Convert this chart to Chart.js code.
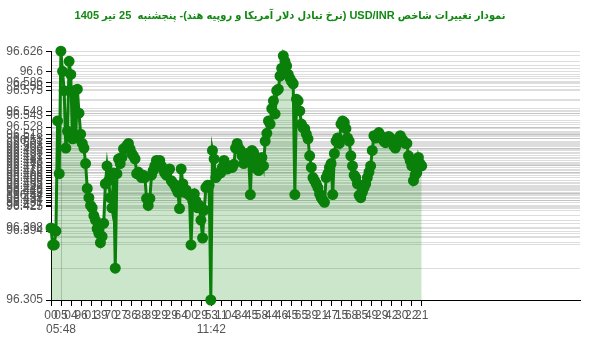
<!DOCTYPE html>
<html>
  <head>
    <meta charset="utf-8">
    <script src="https://cdn.jsdelivr.net/npm/chart.js@4.4.1/dist/chart.umd.min.js"></script>
    <style>
      html, body { margin: 0; padding: 0; background: #fff; }
      #wrap { width: 600px; height: 352px; }
    </style>
  </head>
  <body>
    <div id="wrap"><canvas id="myChart" width="600" height="352"></canvas></div>

    <script>
      // USD/INR values in order
      var rates = [
        96.398, 96.376, 96.376, 96.394, 96.536, 96.468, 96.626, 96.600, 96.575, 96.501,
        96.523, 96.613, 96.596, 96.513, 96.575, 96.514, 96.577, 96.546, 96.519, 96.507,
        96.501, 96.481, 96.449, 96.437, 96.427, 96.424, 96.414, 96.408, 96.397, 96.391,
        96.379, 96.387, 96.404, 96.455, 96.478, 96.459, 96.437, 96.424, 96.469, 96.346,
        96.468, 96.487, 96.481, 96.489, 96.500,
        96.501, 96.504, 96.507, 96.500, 96.494, 96.491, 96.487, 96.468, 96.470, 96.466,
        96.463, 96.466, 96.463, 96.436, 96.427, 96.436, 96.466, 96.472, 96.478, 96.485,
        96.481, 96.485, 96.478, 96.474, 96.469, 96.466, 96.472, 96.474, 96.459, 96.456,
        96.453, 96.449, 96.444, 96.423, 96.474, 96.455, 96.444, 96.447, 96.442, 96.440,
        96.376, 96.433, 96.442, 96.433, 96.424,
        96.427, 96.408, 96.385, 96.421, 96.450, 96.453, 96.453, 96.305, 96.498, 96.487,
        96.463, 96.466, 96.469, 96.469, 96.476, 96.485, 96.480, 96.474, 96.476, 96.476,
        96.476, 96.480, 96.501, 96.507, 96.501, 96.498, 96.491, 96.481, 96.485, 96.494,
        96.489, 96.441, 96.498, 96.495, 96.476, 96.474, 96.472, 96.485, 96.489, 96.478,
        96.510, 96.520, 96.536, 96.532, 96.552, 96.562, 96.545, 96.575,
        96.577, 96.594, 96.604, 96.620, 96.613, 96.607, 96.596, 96.591, 96.587, 96.584,
        96.441, 96.564, 96.562, 96.549, 96.532, 96.527, 96.526, 96.519, 96.513, 96.491,
        96.476, 96.463, 96.459, 96.455, 96.450, 96.442, 96.437, 96.434, 96.431, 96.463,
        96.468, 96.476, 96.481, 96.441, 96.494, 96.510, 96.514, 96.507, 96.532, 96.536,
        96.534, 96.526, 96.514, 96.510,
        96.491, 96.478, 96.466, 96.463, 96.455, 96.440, 96.437, 96.444, 96.450, 96.455,
        96.463, 96.470, 96.478, 96.498, 96.517, 96.514, 96.518, 96.521, 96.517, 96.513,
        96.510, 96.508, 96.514, 96.516, 96.514, 96.508, 96.504, 96.501, 96.506, 96.510,
        96.517, 96.513, 96.510, 96.507, 96.507, 96.491, 96.485, 96.478, 96.459, 96.466,
        96.469, 96.489, 96.481, 96.478
      ];

      // first row of x labels (one per tick)
      var xTickLabels = [
        "00", "05", "04", "96", "01", "39", "70", "27", "36", "38",
        "39", "29", "29", "64", "00", "29", "53", "11", "04", "34",
        "45", "58", "44", "46", "45", "65", "39", "21", "47", "15",
        "68", "85", "49", "29", "42", "30", "22", "21"
      ];
      // second row: [tick number, time]
      var timeMarks = [[1, "05:48"], [16, "11:42"]];

      // labelled values on the y axis
      var yLabelValues = [
        96.305, 96.394, 96.398, 96.425, 96.427, 96.431, 96.434, 96.437, 96.44, 96.443,
        96.446, 96.449, 96.452, 96.455, 96.459, 96.463, 96.466, 96.469, 96.472, 96.476,
        96.479, 96.483, 96.487, 96.491, 96.495, 96.499, 96.503, 96.507, 96.51, 96.513,
        96.518, 96.528, 96.543, 96.548, 96.575, 96.58, 96.586, 96.6, 96.626
      ];

      var titleText = "نمودار تغییرات شاخص USD/INR (نرخ تبادل دلار آمریکا و روپیه هند)- پنجشنبه  25 تیر 1405";

      var yMin = 96.305, yMax = 96.626;
      var tickCount = xTickLabels.length;
      var lastIdx = rates.length - 1;

      var labelSet = new Set(yLabelValues);
      var yTickValues = Array.from(new Set(rates.concat(yLabelValues))).sort(function (a, b) { return a - b; });

      var points = rates.map(function (v, i) { return { x: i, y: v }; });

      var green = "rgb(10,128,10)";
      var ctx = document.getElementById("myChart").getContext("2d");
      var myChart = new Chart(ctx, {
        type: "line",
        data: {
          datasets: [
            {
              label: "USD/INR",
              data: points,
              borderColor: green,
              backgroundColor: "rgba(0,128,0,0.2)",
              pointBackgroundColor: green,
              pointBorderColor: green,
              pointRadius: 4,
              borderWidth: 3,
              fill: "start",
              tension: 0,
              clip: false,
            },
          ],
        },
        options: {
          responsive: false,
          animation: false,
          layout: { padding: { left: 0, right: 20, top: 0, bottom: 0 } },
          plugins: {
            legend: { display: false },
            tooltip: { enabled: false },
            title: {
              display: true,
              // force right-to-left run for the Persian title
              text: "\u202B" + titleText + "\u202C",
              color: "#118811",
              font: { family: "'Liberation Sans', 'DejaVu Sans Condensed', sans-serif", size: 11, weight: "bold" },
              padding: { top: 9, bottom: 29 },
            },
          },
          scales: {
            x: {
              type: "linear",
              min: 0,
              max: lastIdx * 528 / 370,
              afterBuildTicks: function (scale) {
                var t = [];
                for (var k = 0; k < tickCount; k++) {
                  t.push({ value: k * lastIdx / (tickCount - 1) });
                }
                scale.ticks = t;
              },
              afterFit: function (scale) { scale.height = 52; },
              ticks: {
                autoSkip: false,
                maxRotation: 0,
                minRotation: 0,
                color: "#555",
                padding: 2,
                font: { family: "'Liberation Sans', Arial, sans-serif", size: 12 },
                callback: function (value, index) {
                  var first = xTickLabels[index];
                  for (var m = 0; m < timeMarks.length; m++) {
                    if (timeMarks[m][0] === index) return [first, timeMarks[m][1]];
                  }
                  return first;
                },
              },
              grid: {
                color: function (c) {
                  return c.index === timeMarks[0][0] ? "rgba(150,150,150,0.45)" : "rgba(0,0,0,0)";
                },
                tickColor: "#000",
                tickLength: 6,
              },
              border: { color: "#000", width: 1 },
            },
            y: {
              min: yMin,
              max: yMax,
              afterBuildTicks: function (scale) {
                scale.ticks = yTickValues.map(function (v) { return { value: v }; });
              },
              afterFit: function (scale) { scale.width = 51; },
              ticks: {
                autoSkip: false,
                color: "#555",
                padding: 3,
                font: { family: "'Liberation Sans', Arial, sans-serif", size: 12 },
                callback: function (value) {
                  return labelSet.has(value) ? String(value) : "";
                },
              },
              grid: {
                color: "rgba(120,120,120,0.25)",
                tickColor: function (c) {
                  return c.tick && labelSet.has(c.tick.value) ? "#000" : "rgba(0,0,0,0)";
                },
                tickLength: 5,
              },
              border: { color: "#000", width: 1 },
            },
          },
        },
      });
    </script>
  </body>
</html>
